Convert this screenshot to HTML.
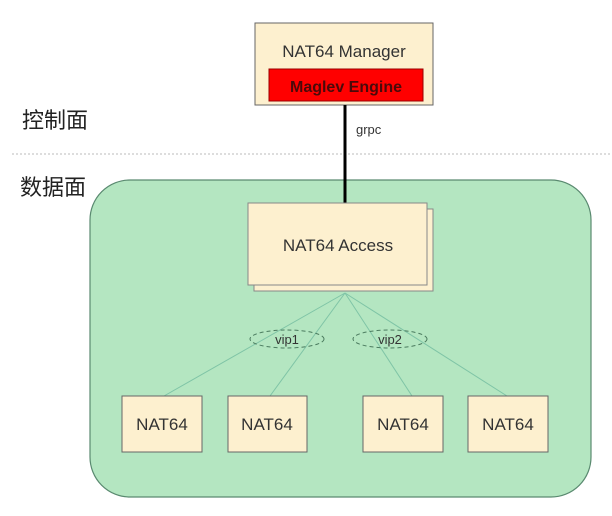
<!DOCTYPE html>
<html><head><meta charset="utf-8"><style>
body{margin:0;background:#fff;width:612px;height:511px;overflow:hidden}
</style></head><body>
<svg width="612" height="511" xmlns="http://www.w3.org/2000/svg" font-family="'Liberation Sans','Noto Sans CJK SC',sans-serif">
<line x1="12" y1="154" x2="612" y2="154" stroke="#bbb" stroke-dasharray="2,2"/>
<rect x="90" y="180" width="501" height="317" rx="40" fill="#b4e6c1" stroke="#5a8a70" stroke-width="1.2"/>
<text x="22" y="128" font-size="22" fill="#222">控制面</text>
<text x="20" y="195" font-size="22" fill="#222">数据面</text>
<rect x="255" y="23" width="178" height="82" fill="#fdf0cf" stroke="#666"/>
<text x="344" y="57" font-size="17" text-anchor="middle" fill="#333">NAT64 Manager</text>
<rect x="269" y="69" width="154" height="32" fill="#f00" stroke="#900"/>
<text x="346" y="92" font-size="16" font-weight="bold" text-anchor="middle" fill="#4a0a0a">Maglev Engine</text>
<line x1="345" y1="105" x2="345" y2="205" stroke="#000" stroke-width="3"/>
<text x="356" y="134" font-size="13" fill="#333">grpc</text>
<rect x="254" y="209" width="179" height="82" fill="#fdf0cf" stroke="#888"/>
<rect x="248" y="203" width="179" height="82" fill="#fdf0cf" stroke="#888"/>
<text x="338" y="251" font-size="17" text-anchor="middle" fill="#333">NAT64 Access</text>
<g stroke="#7fc4a6" stroke-width="1">
<line x1="345" y1="293" x2="164" y2="396"/>
<line x1="345" y1="293" x2="270" y2="396"/>
<line x1="345" y1="293" x2="412" y2="396"/>
<line x1="345" y1="293" x2="507" y2="396"/>
</g>
<ellipse cx="287" cy="339" rx="37" ry="9" fill="none" stroke="#4a7a5e" stroke-dasharray="4,3"/>
<ellipse cx="390" cy="339" rx="37" ry="9" fill="none" stroke="#4a7a5e" stroke-dasharray="4,3"/>
<text x="287" y="344" font-size="13" text-anchor="middle" fill="#333">vip1</text>
<text x="390" y="344" font-size="13" text-anchor="middle" fill="#333">vip2</text>
<g fill="#fdf0cf" stroke="#666">
<rect x="122" y="396" width="80" height="56"/>
<rect x="228" y="396" width="79" height="56"/>
<rect x="363" y="396" width="80" height="56"/>
<rect x="468" y="396" width="80" height="56"/>
</g>
<g font-size="17" text-anchor="middle" fill="#333">
<text x="162" y="430">NAT64</text>
<text x="267" y="430">NAT64</text>
<text x="403" y="430">NAT64</text>
<text x="508" y="430">NAT64</text>
</g>
</svg>
</body></html>
